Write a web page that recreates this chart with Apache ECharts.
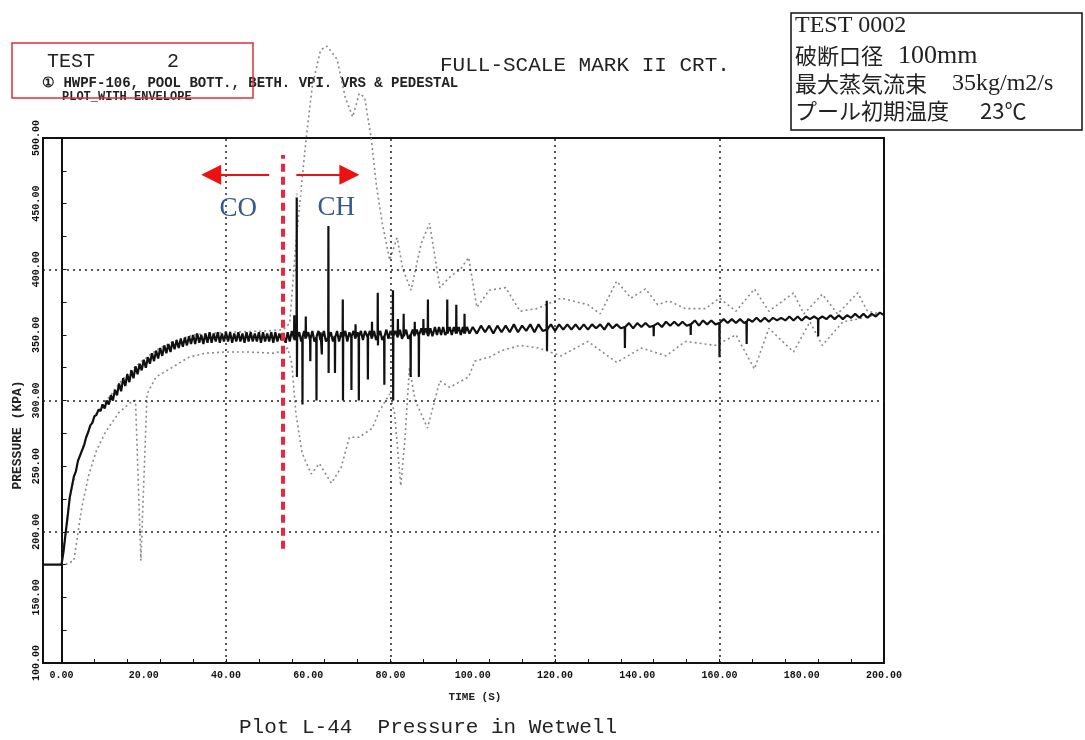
<!DOCTYPE html>
<html><head><meta charset="utf-8">
<script src="https://cdn.jsdelivr.net/npm/echarts@6/dist/echarts.min.js"></script>
<style>html,body{margin:0;padding:0;background:#fff}#c{width:1085px;height:740px}</style>
</head><body><div id="c"></div>
<script>
// ---- tick labels / grid positions ----
const xTickLabels = [0,20,40,60,80,100,120,140,160,180,200];
const xTicks = [0,8,16,24,32,40,48,56,64,72,80,88,96,104,112,120,128,136,144,152,160,168,176,184,192,200];
const yTickLabels = [100,150,200,250,300,350,400,450,500];
const xGridLines = [40,80,120,160];
const yGridLines = [200,300,400];

// ---- main pressure trace [time s, kPa] ----
const mainTrace = [
[-4.5,175],[-2,175],[0,175],[0.5,185],[1,199],[1.5,212],[2,226],[2.5,234],[3,242],[3.5,246],[4,254],[4.5,258],
[5,262],[5.5,266],[6,272],[6.5,276],[7,281],[7.5,283],[8,288],[8.5,289],[9,293],[9.5,292],[10,297],[10.5,294],
[11,300],[11.5,297],[12,304],[12.5,300],[13,308],[13.5,304],[14,313],[14.5,307],[15,317],[15.5,311],[16,320],[16.5,314],
[17,323],[17.5,317],[18,326],[18.5,320],[19,328],[19.5,323],[20,331],[20.5,325],[21,333],[21.5,328],[22,336],[22.5,330],
[23,338],[23.5,332],[24,340],[24.5,334],[25,342],[25.5,336],[26,343],[26.5,337],[27,345],[27.5,339],[28,346],[28.5,340],
[29,347],[29.5,341],[30,348],[30.5,342],[31,349],[31.5,343],[32,350],[32.5,343],[33,351],[33.5,344],[34,350],[34.5,343],
[35,351],[35.5,344],[36,352],[36.5,344],[37,351],[37.5,345],[38,352],[38.5,344],[39,351],[39.5,345],[40,352],[40.5,345],
[41,352],[41.5,344],[42,351],[42.5,345],[43,352],[43.5,345],[44,351],[44.5,344],[45,352],[45.5,345],[46,352],[46.5,345],
[47,351],[47.5,345],[48,352],[48.5,344],[49,352],[49.5,345],[50,351],[50.5,345],[51,352],[51.5,344],[52,352],[52.5,345],
[53,351],[53.5,346],
[54,349],[54.5,344],[55,352],[55.5,345],[56,353],[56.55,347],[56.6,365],[56.65,346],[57,350],[57.15,348],[57.2,458],[57.25,318],
[57.3,348],[57.8,352],[58.3,345],[58.55,348],[58.6,297],[58.65,349],[59,353],[59.35,347],[59.4,364],[59.45,348],[60,352],
[60.45,346],[60.5,330],[60.55,347],[61,353],[61.5,345],[61.95,348],[62,300],[62.05,349],[62.5,353],[62.95,346],[63,352],
[63.3,335],[63.35,348],[63.8,353],[64.3,345],[64.85,348],[64.9,433],[64.95,321],[65,348],[65.5,352],[66,345],[66.45,349],
[66.5,321],[66.55,348],[67,353],[67.5,345],[68,352],[68.35,348],[68.4,377],[68.45,300],[68.5,348],[69,353],[69.5,345],
[70,352],[70.45,348],[70.5,308],[70.55,349],[71,353],[71.45,347],[71.5,358],[71.55,348],[72,352],[72.25,348],[72.3,300],
[72.35,349],[72.8,353],[73.3,346],[73.8,353],[74.45,348],[74.5,316],[74.55,349],[75,353],[75.45,347],[75.5,360],[75.55,348],
[76,353],[76.5,346],[76.85,349],[76.9,382],[76.95,342],[77,349],[77.5,353],[78,346],[78.45,349],[78.5,312],[78.55,349],
[79,354],[79.5,347],[80,353],[80.55,349],[80.6,384],[80.65,300],[80.7,349],[81.2,353],[81.75,348],[81.8,362],[81.85,349],
[82.3,354],[82.8,347],[83.15,350],[83.2,366],[83.25,349],[83.8,354],[84.3,347],[84.85,350],[84.9,318],[84.95,350],[85.4,354],
[85.85,349],[85.9,360],[85.95,350],[86.4,354],[86.85,349],[86.9,318],[86.95,350],[87.5,355],[87.95,350],[88,362],[88.05,350],
[88.6,355],[89.05,350],[89.1,377],[89.15,349],[89.7,355],[90.2,349],[90.8,356],[91.3,350],[91.8,356],[92.3,350],[92.8,356],
[93.3,350],[93.75,352],[93.8,377],[93.85,351],[94.4,356],[94.9,350],[95.4,356],[95.95,351],[96,373],[96.05,351],[96.6,356],
[97.1,350],[97.6,356],[97.95,351],[98,366],[98.05,351],[98.6,356],[99.2,351],[100,356],
[101,351],[102,357],[103,352],[104,357],[105,351],[106,357],[107,352],[108,357],[109,352],[110,358],[111,352],[112,357],
[113,353],[114,358],[115,352],[116,358],[117,353],[117.95,354],[118,376],[118.05,338],[118.1,354],[119,358],[120,353],
[121,358],[122,354],[123,358],[124,354],[125,358],[126,354],[127,358],[128,354],[129,358],[130,355],[131,358],[132,354],
[133,359],[134,355],[135,358],[136,355],[136.95,356],[137,340],[137.05,356],[138,359],[139,355],[140,359],[141,356],
[142,359],[143,356],[143.95,357],[144,349],[144.05,357],[145,359],[146,356],[147,360],[148,357],[149,360],[150,357],
[151,360],[152,357],[152.95,358],[153,350],[153.05,358],[154,361],[155,357],[156,361],[157,358],[158,361],[159,358],
[159.95,359],[160,333],[160.05,359],[161,362],[162,359],[163,362],[164,359],[165,362],[166,359],[166.55,360],[166.6,343],
[166.65,360],[167,362],[168,360],[169,363],[170,360],[171,363],[172,360],[173,363],[174,361],[175,363],[176,361],[177,364],
[178,361],[179,364],[180,361],[181,364],[182,362],[183,364],[183.95,362],[184,349],[184.05,362],[185,364],[186,362],
[187,365],[188,362],[189,365],[190,362],[191,365],[192,363],[193,366],[194,363],[195,366],[196,363],[197,366],[198,364],
[199,367],[200,365]
];

// ---- envelope curves (dotted) ----
const upperEnv = [
[0,175],[1,199],[2,226],[4,254],[6,272],[8,288],[10,297],[12,304],[14,313],[16,320],[18,326],[20,331],[22,336],[24,340],
[26,343],[28,346],[30,348],[32,350],[40,352],[50,353],[54,354],[55.5,359],
[57,420],[58.3,462],[59.5,500],[61,540],[63,567],[64.6,570],[67,560],[69,531],[70.8,516],[72.4,534],[73.7,531],
[75.3,500],[76.6,463],[78,435],[79.8,407],[81.6,424],[83,400],[85,384],[87.5,420],[89.5,435],[92,386],[94.4,394],
[97,400],[99,409],[101,371],[104,384],[108,386],[111.5,368],[115.6,370],[121.5,378],[128,373],[131,366],[135,391],
[138.5,378],[142,385],[145,373],[147.6,376],[151.7,370],[156.6,370],[160,378],[164,368],[168.5,385],[172,368],
[178,382],[180.5,366],[185,381],[188.7,366],[193.6,382],[196,368],[199,366]
];
const lowerEnv = [
[1,175],[3,178],[4.9,218],[6.6,243],[8.5,262],[10.7,276],[14,291],[17,299],[18,300],[19.3,178],[20.8,305],
[23,318],[26.8,325],[31,333],[35,336],[40,337],[45,337],[52,336],[55,340],[56,328],[57,290],[58.5,260],[60.7,244],
[62.7,252],[65.6,237],[68,249],[70,272],[72.4,272],[75.6,279],[77.3,292],[79.8,305],[81,290],[82.5,235],[83.5,270],
[84.6,325],[86,300],[89,279],[92,315],[94.4,310],[99,318],[100.5,330],[104,333],[107,338],[111.5,342],[116,340],
[121.5,334],[128,345],[135,329],[141,340],[147,334],[151.7,345],[159,342],[164,350],[168.5,324],[172,355],[178,337],
[182,360],[185,342],[190,360],[193.6,362],[199,366]
];
const peakMarker = [[57.2,458]];

// ---- annotations (data coordinates) ----
const boundaryTime = 53.7;
const boundaryRange = [187, 487];
const arrowCO = [[50.5,472],[36.4,472]];
const arrowCH = [[57.1,472],[70.0,472]];
const regionLabels = [{name:'CO', t:43.0, p:446},{name:'CH', t:66.8, p:447}];

const mono = '"Liberation Mono","DejaVu Sans Mono",monospace';
const serif = '"Liberation Serif","DejaVu Serif",serif';
const cjk = '"Noto Sans CJK JP","Liberation Serif",sans-serif';
const fmt = v => v.toFixed(2);

const chart = echarts.init(document.getElementById('c'), null, {renderer:'canvas'});
const gridStyle = {color:'#222', width:1.5, type:[2,4]};
const envStyle = {color:'#8a8a8a', width:1.6, type:[2,3]};

chart.setOption({
  animation:false,
  backgroundColor:'#fff',
  grid:{left:43, right:201, top:138, bottom:77, show:true, borderColor:'#111', borderWidth:2, backgroundColor:'transparent'},
  xAxis:{type:'value', min:-4.5, max:200,
    axisLine:{onZero:false, lineStyle:{color:'#111', width:2}},
    axisTick:{inside:true, length:4, customValues:xTicks, lineStyle:{color:'#111'}},
    axisLabel:{customValues:xTickLabels, formatter:v=>fmt(v), fontFamily:mono, fontWeight:'bold', fontSize:10, color:'#111', margin:7},
    splitLine:{show:false}},
  yAxis:{type:'value', min:100, max:500, interval:25,
    axisLine:{onZero:true, lineStyle:{color:'#111', width:2}},
    axisTick:{inside:true, length:5, lineStyle:{color:'#111'}},
    axisLabel:{formatter:v=> (v%50===0? fmt(v):''), rotate:90, fontFamily:mono, fontWeight:'bold', fontSize:10, color:'#111', margin:2},
    splitLine:{show:false}},
  graphic:[
    {type:'rect', shape:{x:12,y:43,width:241,height:55}, style:{fill:'none', stroke:'#e0303c', lineWidth:1.5}, z:10},
    {type:'text', x:47, y:62, style:{text:'TEST      2', font:'20px '+mono, fill:'#222', textVerticalAlign:'middle'}},
    {type:'text', x:42, y:83, style:{text:'\u2460 HWPF-106, POOL BOTT., BETH. VPI. VRS & PEDESTAL', font:'bold 14px '+mono, fill:'#222', textVerticalAlign:'middle'}},
    {type:'text', x:62, y:97, style:{text:'PLOT_WITH ENVELOPE', font:'bold 12px '+mono, fill:'#222', textVerticalAlign:'middle'}},
    {type:'text', x:440, y:65, style:{text:'FULL-SCALE MARK II CRT.', font:'21px '+mono, fill:'#222', textVerticalAlign:'middle'}},
    {type:'rect', shape:{x:791,y:13,width:291,height:117}, style:{fill:'#fff', stroke:'#111', lineWidth:1.5}},
    {type:'text', x:795, y:26, style:{text:'TEST 0002', font:'24px '+serif, fill:'#222', textVerticalAlign:'middle'}},
    {type:'text', x:795, y:56, style:{text:'破断口径', font:'22px '+cjk, fill:'#222', textVerticalAlign:'middle'}},
    {type:'text', x:898, y:56, style:{text:'100mm', font:'26px '+serif, fill:'#222', textVerticalAlign:'middle'}},
    {type:'text', x:795, y:84, style:{text:'最大蒸気流束', font:'22px '+cjk, fill:'#222', textVerticalAlign:'middle'}},
    {type:'text', x:952, y:84, style:{text:'35kg/m2/s', font:'24px '+serif, fill:'#222', textVerticalAlign:'middle'}},
    {type:'text', x:795, y:111, style:{text:'プール初期温度', font:'22px '+cjk, fill:'#222', textVerticalAlign:'middle'}},
    {type:'text', x:980, y:111, style:{text:'23℃', font:'22px '+cjk, fill:'#222', textVerticalAlign:'middle'}},
    {type:'text', x:18, y:435, rotation:Math.PI/2, style:{text:'PRESSURE (KPA)', font:'bold 13px '+mono, fill:'#222', textAlign:'center', textVerticalAlign:'middle'}},
    {type:'text', x:475, y:697, style:{text:'TIME (S)', font:'bold 11px '+mono, fill:'#222', textAlign:'center', textVerticalAlign:'middle'}},
    {type:'text', x:428, y:727, style:{text:'Plot L-44  Pressure in Wetwell', font:'21px '+mono, fill:'#222', textAlign:'center', textVerticalAlign:'middle'}}
  ],
  series:[
    {type:'line', name:'grid', data:[], silent:true,
      markLine:{silent:true, symbol:'none', label:{show:false}, lineStyle:gridStyle, animation:false,
        data:[...xGridLines.map(v=>({xAxis:v})), ...yGridLines.map(v=>({yAxis:v}))]}},
    {type:'line', name:'lower envelope', data:lowerEnv, showSymbol:false, symbol:'none', clip:false, lineStyle:envStyle, z:2},
    {type:'line', name:'upper envelope', data:upperEnv, showSymbol:false, symbol:'none', clip:false, lineStyle:envStyle, z:2},
    {type:'line', name:'pressure', data:mainTrace, showSymbol:false, symbol:'none', lineStyle:{color:'#111', width:2.2}, z:3},
    {type:'scatter', name:'peak', data:peakMarker, symbol:'emptyCircle', symbolSize:7, itemStyle:{color:'#fff', borderColor:'#222', borderWidth:1.5}, z:4},
    {type:'line', name:'annot', data:[], silent:true, z:5,
      markLine:{silent:true, animation:false, label:{show:false},
        data:[
          [{coord:[boundaryTime,boundaryRange[0]], symbol:'none'},{coord:[boundaryTime,boundaryRange[1]], symbol:'none', lineStyle:{color:'#e8283c', width:4, type:[8,5]}}],
          [{coord:arrowCO[0], symbol:'none'},{coord:arrowCO[1], symbol:'triangle', symbolSize:[20,20], lineStyle:{color:'#ee1111', width:2, type:'solid'}}],
          [{coord:arrowCH[0], symbol:'none'},{coord:arrowCH[1], symbol:'triangle', symbolSize:[20,20], lineStyle:{color:'#ee1111', width:2, type:'solid'}}]
        ]},
      markPoint:{silent:true, animation:false, symbol:'circle', symbolSize:1, itemStyle:{color:'transparent'},
        label:{show:true, position:'inside', fontFamily:serif, fontSize:27, color:'#35598f', formatter:p=>p.name},
        data:regionLabels.map(r=>({name:r.name, coord:[r.t,r.p]}))}}
  ]
});
</script></body></html>
